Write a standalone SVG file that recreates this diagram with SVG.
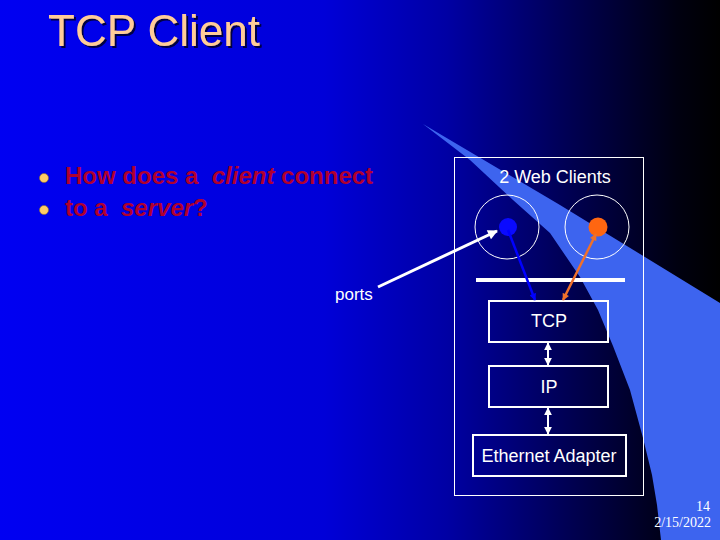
<svg xmlns="http://www.w3.org/2000/svg" width="720" height="540" viewBox="0 0 720 540">
  <defs>
    <linearGradient id="bg" x1="0" y1="0" x2="720" y2="0" gradientUnits="userSpaceOnUse">
      <stop offset="0" stop-color="#0000f2"/>
      <stop offset="0.45" stop-color="#0000d8"/>
      <stop offset="0.62" stop-color="#0000a4"/>
      <stop offset="0.8" stop-color="#00004e"/>
      <stop offset="0.94" stop-color="#000010"/>
      <stop offset="1" stop-color="#000000"/>
    </linearGradient>
    <filter id="shadow" x="-10%" y="-20%" width="130%" height="150%">
      <feDropShadow dx="2" dy="2" stdDeviation="0.6" flood-color="#000033" flood-opacity="0.9"/>
    </filter>
    <marker id="ahWhite" viewBox="0 0 10 10" refX="9" refY="5" markerWidth="12" markerHeight="10" markerUnits="userSpaceOnUse" orient="auto-start-reverse">
      <path d="M0,0 L10,5 L0,10 z" fill="#ffffff"/>
    </marker>
    <marker id="ahSmall" viewBox="0 0 10 10" refX="9" refY="5" markerWidth="8" markerHeight="8" markerUnits="userSpaceOnUse" orient="auto-start-reverse">
      <path d="M0,0 L10,5 L0,10 z" fill="#ffffff"/>
    </marker>
    <marker id="ahBlue" viewBox="0 0 10 10" refX="9" refY="5" markerWidth="8" markerHeight="7" markerUnits="userSpaceOnUse" orient="auto-start-reverse">
      <path d="M0,0 L10,5 L0,10 z" fill="#0000ff"/>
    </marker>
    <marker id="ahOrange" viewBox="0 0 10 10" refX="9" refY="5" markerWidth="8" markerHeight="7" markerUnits="userSpaceOnUse" orient="auto-start-reverse">
      <path d="M0,0 L10,5 L0,10 z" fill="#f0702a"/>
    </marker>
  </defs>
  <style>
    .title { font-family: "Liberation Sans", Arial, sans-serif; font-size: 44px; fill: #ffcc99; }
    .bullet { font-family: "Liberation Sans", Arial, sans-serif; font-size: 24px; font-weight: bold; fill: #b0002e; }
    .label { font-family: "Liberation Sans", Arial, sans-serif; font-size: 18px; fill: #ffffff; }
    .foot { font-family: "Liberation Serif", "Times New Roman", serif; font-size: 14px; fill: #ffffff; }
    .box { fill: none; stroke: #ffffff; stroke-width: 2; }
    .thin { fill: none; stroke: #ffffff; stroke-width: 1; }
  </style>

  <rect x="0" y="0" width="720" height="540" fill="url(#bg)"/>
  <path id="swoosh" d="M423,124 L560,205 L720,303 L720,540 L661,540 L657,505 L652,475 L643,438 L630,390 L613,346 L598,310 L580,277 L550,233 L513,200 L470,160 Z" fill="#3d64ef"/>

  <text class="title" x="48" y="46" filter="url(#shadow)">TCP Client</text>

  <g id="bullets">
    <circle cx="44" cy="178" r="4.5" fill="#ffcc66" stroke="#8a6a30" stroke-width="0.6"/>
    <circle cx="44" cy="210" r="4.5" fill="#ffcc66" stroke="#8a6a30" stroke-width="0.6"/>
    <text class="bullet" x="65" y="184" xml:space="preserve">How does a  <tspan font-style="italic">client</tspan> connect</text>
    <text class="bullet" x="65" y="216" xml:space="preserve">to a  <tspan font-style="italic">server</tspan>?</text>
  </g>

  <g id="outer-box">
    <rect class="thin" x="454.5" y="157.5" width="189" height="338"/>
    <text class="label" x="555" y="183" text-anchor="middle">2 Web Clients</text>
  </g>

  <g id="client1">
    <circle class="thin" cx="507" cy="227" r="32"/>
    <circle cx="508" cy="227" r="9" fill="#0a0aff"/>
  </g>
  <g id="client2">
    <circle class="thin" cx="597" cy="227" r="32"/>
    <circle cx="598" cy="227" r="9.5" fill="#ff6611"/>
  </g>

  <g id="port-bar">
    <rect x="476" y="278" width="149" height="4" fill="#ffffff"/>
  </g>

  <g id="tcp">
    <rect class="box" x="489" y="301" width="119" height="41"/>
    <text class="label" x="549" y="327" text-anchor="middle">TCP</text>
  </g>
  <g id="ip">
    <rect class="box" x="489" y="366" width="119" height="41"/>
    <text class="label" x="549" y="393" text-anchor="middle">IP</text>
  </g>
  <g id="ethernet">
    <rect class="box" x="473" y="435" width="153" height="41"/>
    <text class="label" x="549" y="462" text-anchor="middle">Ethernet Adapter</text>
  </g>

  <g id="ports-label">
    <text class="label" x="335" y="300" style="font-size:17px">ports</text>
  </g>

  <g id="connectors">
    <line x1="378" y1="287" x2="497" y2="231" stroke="#ffffff" stroke-width="3" marker-end="url(#ahWhite)"/>
    <line x1="508" y1="230" x2="535" y2="300" stroke="#0000ff" stroke-width="2.5" marker-end="url(#ahBlue)"/>
    <line x1="596" y1="234" x2="563" y2="300" stroke="#f0702a" stroke-width="2.5" marker-start="url(#ahOrange)" marker-end="url(#ahOrange)"/>
    <line x1="548" y1="343" x2="548" y2="365" stroke="#ffffff" stroke-width="2" marker-start="url(#ahSmall)" marker-end="url(#ahSmall)"/>
    <line x1="548" y1="408" x2="548" y2="434" stroke="#ffffff" stroke-width="2" marker-start="url(#ahSmall)" marker-end="url(#ahSmall)"/>
  </g>

  <g id="footer">
    <text class="foot" x="710" y="511" text-anchor="end">14</text>
    <text class="foot" x="711" y="527" text-anchor="end">2/15/2022</text>
  </g>
</svg>
